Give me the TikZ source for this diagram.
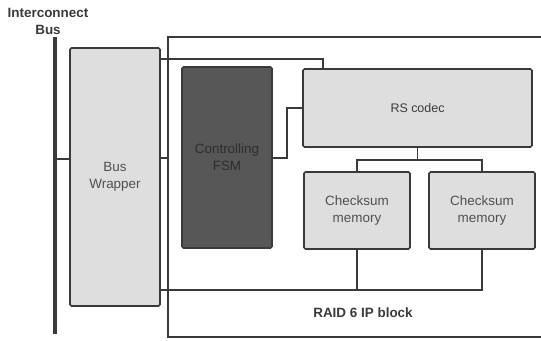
\documentclass[tikz,border=0pt]{standalone}
\usepackage{fontspec}
\setmainfont{Liberation Sans}
\definecolor{boxfill}{HTML}{DEDEDE}
\definecolor{boxline}{HTML}{3A3A3A}
\definecolor{fsmfill}{HTML}{575757}
\definecolor{fsmtext}{HTML}{2E2E2E}
\definecolor{txtgray}{HTML}{505050}
\begin{document}
\begin{tikzpicture}[x=1bp,y=-1bp,
  blk/.style={draw=boxline,line width=1.6bp,fill=boxfill,rounded corners=1.5bp,
    text=txtgray,align=center,inner sep=0pt,font=\fontsize{13.5}{17}\selectfont},
  wire/.style={draw=boxline,line width=1.1bp},
  lbl/.style={font=\bfseries\fontsize{13.5}{17}\selectfont,text=boxline,align=center,inner sep=0pt}]
\useasboundingbox (0,0) rectangle (541,340);
% RAID container
\node[draw=boxline,line width=1.1bp,minimum width=374bp,minimum height=300bp,inner sep=0pt] (raid) at (355,187) {};
\node[lbl] (raidlbl) at (363,313) {RAID 6 IP block};
% bus
\coordinate (bustop) at (55,37);
\coordinate (busbot) at (55,334);
\draw[boxline,line width=4bp] (bustop) -- (busbot);
\node[lbl] (buslbl) at (48,21) {Interconnect\\Bus};
% blocks
\node[blk,minimum width=90bp,minimum height=258bp] (bw) at (115,177) {Bus\\Wrapper};
\node[blk,fill=fsmfill,text=fsmtext,minimum width=90bp,minimum height=181bp] (fsm) at (227,157.5) {\color{fsmtext}Controlling\\\color{fsmtext}FSM};
\node[blk,text=boxline,font=\fontsize{12.5}{15}\selectfont,minimum width=229bp,minimum height=78bp] (rs) at (417.5,108) {RS codec};
\node[blk,minimum width=106bp,minimum height=77bp] (cs1) at (357,210.5) {Checksum\\memory};
\node[blk,minimum width=106bp,minimum height=77bp] (cs2) at (482,210.5) {Checksum\\memory};
% connectors
\coordinate (j1) at (55,159);
\draw[wire] (j1) -- (j1 -| bw.west);
\coordinate (k1) at (323,59);
\draw[wire] (k1 -| bw.east) -- (k1) -- (k1 |- rs.north);
\coordinate (k6) at (0,158);
\draw[wire] (bw.east |- k6) -- (raid.west |- k6);
\coordinate (k2) at (287,158);
\coordinate (k3) at (287,108);
\draw[wire] (k2 -| fsm.east) -- (k2) -- (k3) -- (k3 -| rs.west);
\coordinate (k4) at (417.5,160);
\draw[wire] (rs.south) -- (k4);
\draw[wire] (cs1.north) |- (k4) -| (cs2.north);
\coordinate (k5) at (0,290);
\draw[wire] (bw.east |- k5) -- (cs1.south |- k5) -- (cs1.south);
\draw[wire] (cs1.south |- k5) -| (cs2.south);
\end{tikzpicture}
\end{document}
